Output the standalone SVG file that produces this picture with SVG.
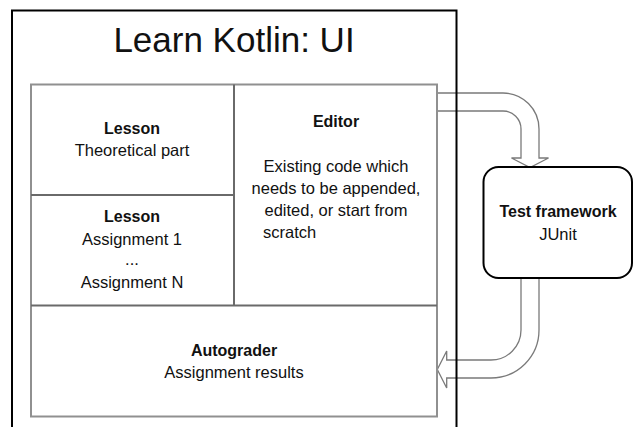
<svg xmlns="http://www.w3.org/2000/svg" width="633" height="427" viewBox="0 0 633 427">
<style>
text{font-family:"Liberation Sans",Arial,sans-serif;fill:#111;text-anchor:middle}
.t{font-size:16.5px}
.b{font-size:16px;font-weight:bold}
.frame{fill:none;stroke:#909090;stroke-width:2}
.div{fill:none;stroke:#6a6a6a;stroke-width:2}
.arrow{fill:#fff;stroke:#7a7a7a;stroke-width:1.3;stroke-linejoin:miter}
</style>
<rect width="633" height="427" fill="#fff"/>
<g id="connectors">
<path class="arrow" d="M437,93 H503 A36,36 0 0 1 539,129 V158 H548.5 L530,167.5 L511.5,158 H521 V129 A18,18 0 0 0 503,111 H437 Z"/>
<path class="arrow" d="M539,278 V330 A48,48 0 0 1 491,378 H446.7 V388 L437.3,369.5 L446.7,351 V360 H491 A30,30 0 0 0 521,330 V278 Z"/>
</g>
<g id="app">
<rect x="12" y="10.5" width="444.5" height="430" fill="none" stroke="#000" stroke-width="2"/>
<text x="234" y="52" style="font-size:35px">Learn Kotlin: UI</text>
</g>
<g id="frame">
<rect class="frame" x="31" y="84.5" width="406" height="332"/>
<line class="div" x1="234" y1="84.5" x2="234" y2="305.5"/>
<line class="div" x1="31" y1="195" x2="234" y2="195"/>
<line class="div" x1="31" y1="305.5" x2="437" y2="305.5"/>
</g>
<g id="lesson-theory">
<text class="b" x="132" y="134">Lesson</text>
<text class="t" x="132" y="156">Theoretical part</text>
</g>
<g id="lesson-assignment">
<text class="b" x="132" y="222">Lesson</text>
<text class="t" x="132" y="245">Assignment 1</text>
<text class="t" x="132" y="265">...</text>
<text class="t" x="132" y="288">Assignment N</text>
</g>
<g id="editor">
<text class="b" x="336" y="127">Editor</text>
<text class="t" x="336" y="172">Existing code which</text>
<text class="t" x="336" y="194">needs to be appended,</text>
<text class="t" x="336" y="216">edited, or start from</text>
<text class="t" x="263" y="238" style="text-anchor:start">scratch</text>
</g>
<g id="autograder">
<text class="b" x="234" y="356">Autograder</text>
<text class="t" x="234" y="378">Assignment results</text>
</g>
<g id="test-framework">
<rect x="483.5" y="167" width="148.5" height="111" rx="15" fill="#fff" stroke="#000" stroke-width="2"/>
<text class="b" x="558" y="217">Test framework</text>
<text class="t" x="558" y="240">JUnit</text>
</g>
</svg>
